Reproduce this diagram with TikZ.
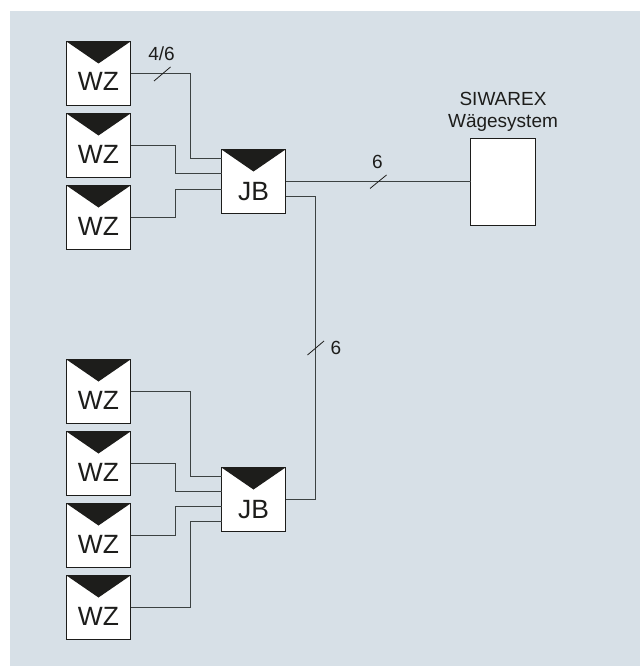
\documentclass[tikz,border=0pt]{standalone}
\usepackage{fontspec}
\setmainfont{Liberation Sans}
\usetikzlibrary{positioning}
\definecolor{panel}{HTML}{D7E0E7}
\definecolor{ink}{HTML}{1D1D1B}
\definecolor{wirecol}{HTML}{3C4242}
\tikzset{
  device/.style={draw=ink,fill=white,line width=1pt,minimum size=64pt,inner sep=0pt,outer sep=0pt,
    text=ink,font=\fontsize{26.4}{26}\selectfont},
  wzbox/.style={device,text height=35pt,text depth=0pt},
  jbbox/.style={device,text height=38pt,text depth=0pt},
  wire/.style={draw=wirecol,line width=1pt},
  tick/.style={draw=ink,line width=0.8pt},
  lbl/.style={text=ink,inner sep=0pt,font=\fontsize{19}{22}\selectfont}
}
% dark wedge on top of a box
\newcommand{\wedgeon}[1]{\fill[ink] (#1.north west) -- (#1.north east) -- ([yshift=-22pt]#1.north) -- cycle;}
\begin{document}
\begin{tikzpicture}[x=1pt,y=-1pt]
  \useasboundingbox (0,0) rectangle (640,666);
  \fill[panel] (10,11) rectangle (640,666);
% upper group
  \node[jbbox] (jbup) at (253.5,181.5) {JB};
  \wedgeon{jbup}
  \foreach \name/\y in {wza/73.5,wzb/145.5,wzc/217.5}{
    \node[wzbox] (\name) at (98.5,\y) {WZ};
    \wedgeon{\name}
  }
% lower group
  \node[jbbox] (jblow) at (253.5,499.5) {JB};
  \wedgeon{jblow}
  \foreach \name/\y in {wzd/391.5,wze/463.5,wzf/535.5,wzg/607.5}{
    \node[wzbox] (\name) at (98.5,\y) {WZ};
    \wedgeon{\name}
  }
  \node[draw=ink,fill=white,line width=1pt,minimum width=65pt,minimum height=87pt,outer sep=0pt] (siwarex) at (503,182) {};
  \node[lbl,align=center,above=6.5pt of siwarex] (syslabel) {SIWAREX\\Wägesystem};
% entry points on the junction boxes
  \coordinate (upa) at (221.5,158.5);
  \coordinate (upb) at (221.5,173.5);
  \coordinate (upc) at (221.5,189.5);
  \coordinate (upout) at (285.5,196.5);
  \coordinate (lowa) at (221.5,476.5);
  \coordinate (lowb) at (221.5,491.5);
  \coordinate (lowc) at (221.5,506.5);
  \coordinate (lowd) at (221.5,521.5);
% wires
  \draw[wire] (wza.east) -| (190.5,120) |- (upa);
  \draw[wire] (wzb.east) -| (175.5,160) |- (upb);
  \draw[wire] (wzc.east) -| (175.5,200) |- (upc);
  \draw[wire] (wzd.east) -| (190.5,430) |- (lowa);
  \draw[wire] (wze.east) -| (175.5,480) |- (lowb);
  \draw[wire] (wzf.east) -| (175.5,520) |- (lowc);
  \draw[wire] (wzg.east) -| (190.5,560) |- (lowd);
  \draw[wire] (jbup.east) -- (jbup.east -| siwarex.west);
  \draw[wire] (upout) -| (315.5,350) |- (jblow.east);
% slashes with wire counts
  \coordinate (ticka1) at (154,81);
  \coordinate (ticka2) at (170.5,67);
  \coordinate (tickb1) at (370,188.5);
  \coordinate (tickb2) at (386.5,175);
  \coordinate (tickc1) at (307.5,355);
  \coordinate (tickc2) at (324,341);
  \draw[tick] (ticka1) -- (ticka2);
  \draw[tick] (tickb1) -- (tickb2);
  \draw[tick] (tickc1) -- (tickc2);
  \node[lbl] (counta) at (161.5,53.5) {4/6};
  \node[lbl] (countb) at (377.5,161.5) {6};
  \node[lbl] (countc) at (336,348) {6};
\end{tikzpicture}
\end{document}
